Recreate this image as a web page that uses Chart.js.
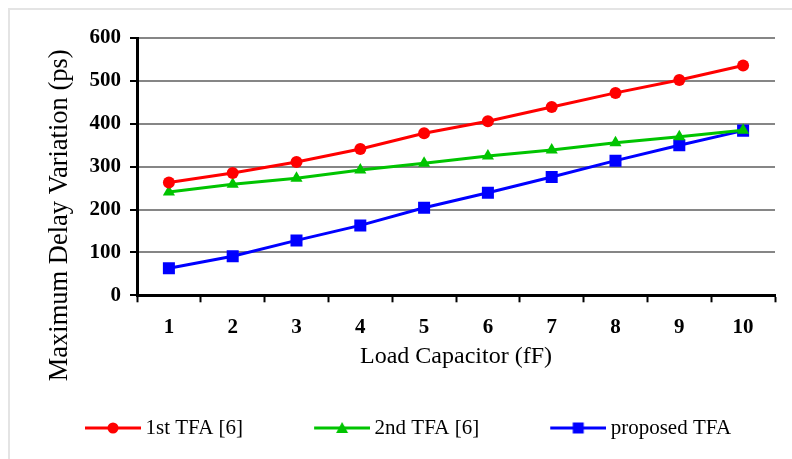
<!DOCTYPE html>
<html>
<head>
<meta charset="utf-8">
<script src="https://cdn.jsdelivr.net/npm/chart.js@4.4.1/dist/chart.umd.min.js"></script>
<style>
  html, body { margin: 0; padding: 0; background: #fff; overflow: hidden; }
  #wrap { position: relative; width: 792px; height: 459px; }
  #frame { position: absolute; left: 8px; top: 8px; width: 800px; height: 470px;
           border-left: 2px solid #e4e4e4; border-top: 2px solid #e4e4e4; }
  #chart { position: absolute; left: 0; top: 0; }
</style>
</head>
<body>
<div id="wrap">
  <div id="frame"></div>
  <canvas id="chart" width="792" height="459"></canvas>
</div>
<script>
// values
const loadCap = ["1", "2", "3", "4", "5", "6", "7", "8", "9", "10"];
const firstTfa = [263, 285, 311, 341, 378, 406, 439, 472, 502, 536];
const secondTfa = [241, 259, 273, 292, 308, 325, 339, 356, 370, 385];
const proposedTfa = [63, 91, 128, 163, 204, 239, 276, 314, 350, 384];
const seriesNames = ["1st TFA [6]", "2nd TFA [6]", "proposed TFA"];
const seriesColors = ["#ff0000", "#00c400", "#0000ff"];
const seriesMarkers = ["circle", "triangle", "rect"];
const markerSizes = [6, 7, 8.5];
const yTitle = "Maximum Delay Variation (ps)";
const xTitle = "Load Capacitor (fF)";

const serif = "'Liberation Serif', 'Times New Roman', serif";
// legend symbol: box width W, picture spills E px each side so the line runs close to the text
const W = 115, E = 6, SEG = 56;

function legendSymbol(color, marker) {
    var c = document.createElement('canvas');
    c.width = W + 2 * E;
    c.height = 16;
    var g = c.getContext('2d');
    var x0 = c.width - SEG;
    g.strokeStyle = color;
    g.fillStyle = color;
    g.lineWidth = 3;
    g.beginPath();
    g.moveTo(x0, 8);
    g.lineTo(c.width, 8);
    g.stroke();
    var cx = x0 + SEG / 2;
    g.beginPath();
    if (marker == "circle") {
        g.arc(cx, 8, 5.5, 0, Math.PI * 2);
    } else if (marker == "triangle") {
        g.moveTo(cx, 2);
        g.lineTo(cx + 6, 13);
        g.lineTo(cx - 6, 13);
        g.closePath();
    } else {
        g.rect(cx - 5.5, 2.5, 11, 11);
    }
    g.fill();
    return c;
}

const symbols = seriesNames.map((n, i) => legendSymbol(seriesColors[i], seriesMarkers[i]));
const seriesData = [firstTfa, secondTfa, proposedTfa];

// y axis title sits lower than the plot middle in the original, so draw it by hand
const yTitlePlugin = {
    id: "yTitle",
    afterDraw(chart) {
        const ctx = chart.ctx;
        const area = chart.chartArea;
        ctx.save();
        ctx.translate(area.left - 77, area.bottom - 80);
        ctx.rotate(-Math.PI / 2);
        ctx.font = "26.5px " + serif;
        ctx.fillStyle = "#000";
        ctx.textAlign = "center";
        ctx.textBaseline = "middle";
        ctx.fillText(yTitle, 0, 0);
        ctx.restore();
    }
};

new Chart("chart", {
    type: "line",
    data: {
        labels: loadCap,
        datasets: seriesData.map((vals, i) => ({
            label: seriesNames[i],
            data: vals,
            borderColor: seriesColors[i],
            backgroundColor: seriesColors[i],
            borderWidth: 3,
            pointStyle: seriesMarkers[i],
            pointRadius: markerSizes[i],
            pointBorderWidth: 0,
            tension: 0
        }))
    },
    plugins: [yTitlePlugin],
    options: {
        responsive: false,
        animation: false,
        devicePixelRatio: 1,
        layout: { padding: { left: 14, top: 38, right: 17, bottom: 10.5 } },
        plugins: {
            tooltip: { enabled: false },
            legend: {
                position: "bottom",
                align: "start",
                labels: {
                    usePointStyle: true,
                    pointStyleWidth: W,
                    padding: 6,
                    color: "#000",
                    font: { family: serif, size: 21 },
                    generateLabels: function (chart) {
                        var items = Chart.defaults.plugins.legend.labels.generateLabels(chart);
                        items.forEach((it, i) => { it.pointStyle = symbols[i]; });
                        return items;
                    }
                }
            }
        },
        scales: {
            x: {
                offset: true,
                grid: { offset: true, drawOnChartArea: false, tickLength: 7, tickColor: "#000", tickWidth: 2 },
                border: { color: "#000", width: 3 },
                ticks: { color: "#000", padding: 13, font: { family: serif, size: 21, weight: "bold" } },
                title: {
                    display: true,
                    text: xTitle,
                    color: "#000",
                    font: { family: serif, size: 24, lineHeight: 1 },
                    padding: { top: -9, bottom: 43 }
                }
            },
            y: {
                min: 0,
                max: 600,
                afterFit: function (scale) { scale.width = 123; },
                grid: { color: "#868686", lineWidth: 2, tickLength: 7, tickColor: "#000", tickWidth: 2 },
                border: { color: "#000", width: 3 },
                ticks: { stepSize: 100, color: "#000", padding: 9, font: { family: serif, size: 21, weight: "bold" } }
            }
        }
    }
});
</script>
</body>
</html>
